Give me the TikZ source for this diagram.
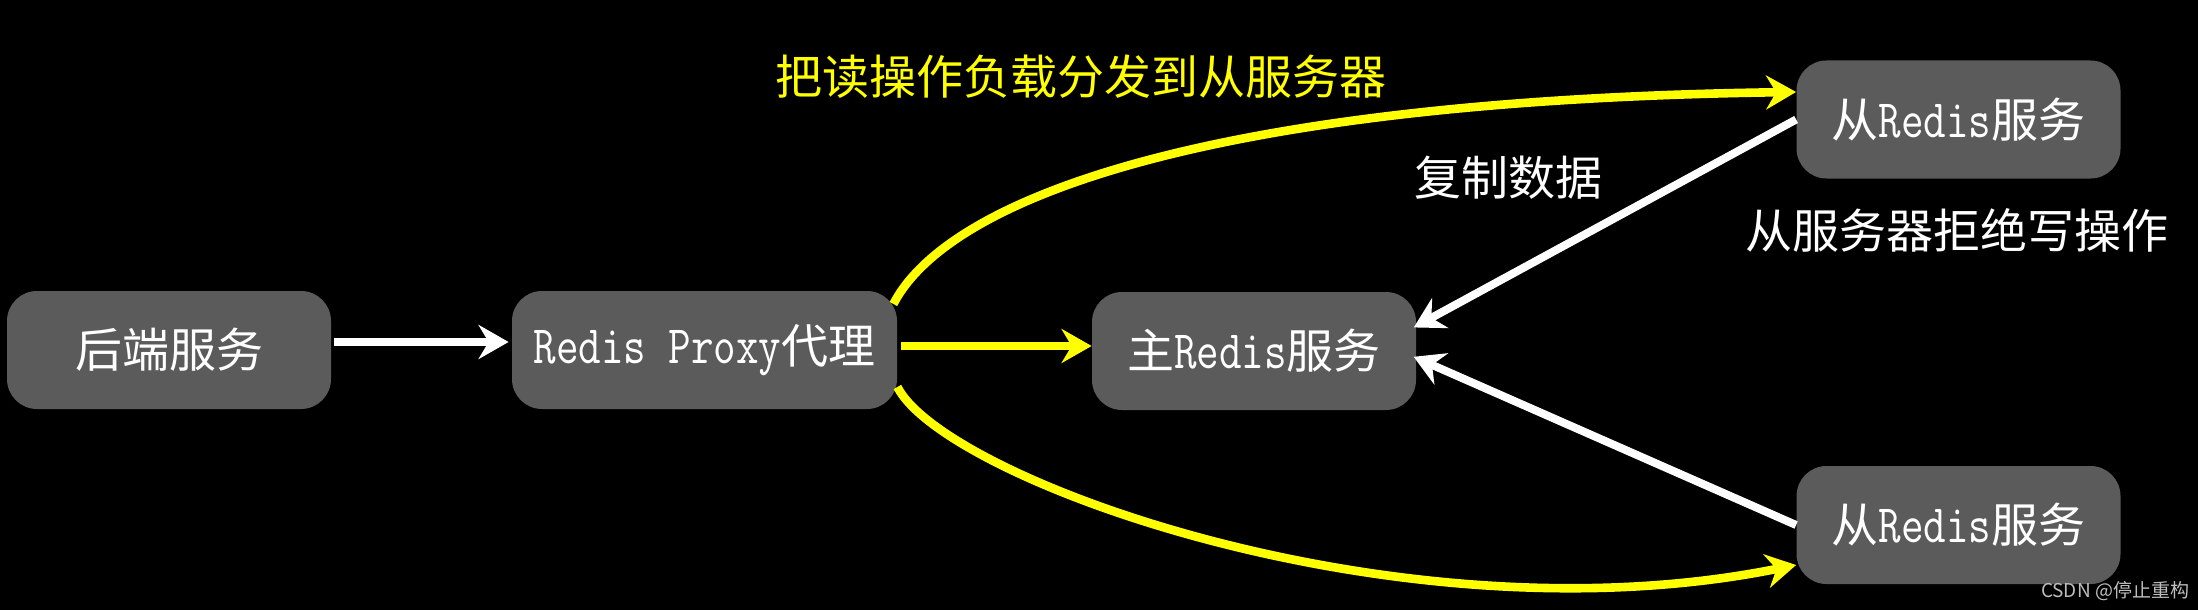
\documentclass[tikz,border=0pt]{standalone}
\usepackage{fontspec}
\setmainfont{Noto Sans CJK SC}
\newfontfamily\lat[Scale=1.15,FakeStretch=0.81]{Latin Modern Mono}
\usetikzlibrary{arrows.meta}
\definecolor{boxgray}{RGB}{91,91,91}
\definecolor{yel}{RGB}{255,255,0}
\definecolor{wm}{RGB}{190,190,190}
\tikzset{
  box/.style={fill=boxgray, rounded corners=15pt, minimum width=162pt, minimum height=59pt,
    text=white, font=\fontsize{23.5}{28}\selectfont, inner sep=0pt},
  lbl/.style={font=\fontsize{23.5}{28}\selectfont, inner sep=0pt},
  warr/.style={draw=white, line width=4pt, -{Stealth[length=15pt,width=17pt,inset=5pt]}},
  yarr/.style={draw=yel, line width=4.3pt, -{Stealth[length=15pt,width=17pt,inset=5pt]}},
}
\begin{document}
\begin{tikzpicture}[x=0.5pt,y=-0.5pt]
\fill[black] (0,0) rectangle (2198,610);
\useasboundingbox (0,0) rectangle (2198,610);

\node[box] (backend) at (169,350) {后端服务};
\node[box, minimum width=192.5pt] (proxy) at (704.5,350) {{\lat Redis Proxy}代理};
\node[box] (main) at (1254,351) {主{\lat Redis}服务};
\node[box] (s1) at (1958.5,119.5) {从{\lat Redis}服务};
\node[box] (s2) at (1958.5,525) {从{\lat Redis}服务};

\node[lbl, text=yel] (t1) at (1081,77) {把读操作负载分发到从服务器};
\node[lbl, text=white] (t2) at (1508,178) {复制数据};
\node[lbl, text=white] (t3) at (1957,230) {从服务器拒绝写操作};
\node[font=\fontsize{9.5}{11}\selectfont, text=wm, inner sep=0pt] (wmk) at (2115,591) {CSDN @停止重构};

\draw[warr, shorten <=1.5pt, shorten >=1.5pt] ([yshift=4pt]backend.east) -- ([yshift=4pt]proxy.west);
\draw[yarr, shorten <=2pt] ([yshift=2pt]proxy.east) -- ([yshift=2.5pt]main.west);
\draw[yarr] ([xshift=-2pt,yshift=23pt]proxy.east) .. controls (950,195) and (1220,100) .. ([yshift=13.75pt]s1.west);
\draw[yarr] ([yshift=-18.5pt]proxy.east) .. controls (945,480) and (1400,645) .. ([yshift=-20pt]s2.west);
\draw[warr, shorten >=-1.5pt] (s1.west) -- ([yshift=12.5pt]main.east);
\draw[warr, shorten >=-1.5pt] (s2.west) -- ([yshift=-3.5pt]main.east);
\end{tikzpicture}
\end{document}
